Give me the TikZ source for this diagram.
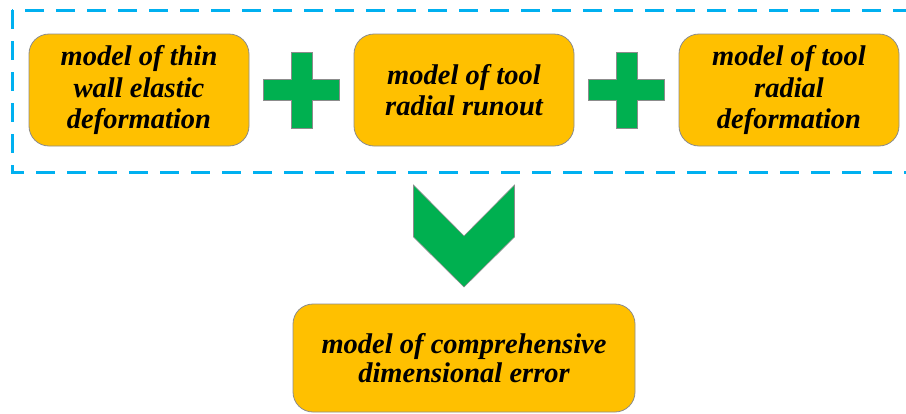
\documentclass[tikz,border=0pt]{standalone}
\usepackage{fontspec}
\setmainfont{Liberation Serif}
\usepackage{tikz}
\usetikzlibrary{calc}
\definecolor{boxfill}{RGB}{255,192,0}
\definecolor{plusgreen}{RGB}{0,176,80}
\definecolor{dashblue}{RGB}{0,176,240}
\definecolor{edgegray}{RGB}{140,140,140}

\begin{document}
\begin{tikzpicture}[
    x=1pt,y=-1pt,
    model/.style={
        draw=edgegray,
        line width=0.8pt,
        fill=boxfill,
        rounded corners=20pt,
        align=center,
        inner sep=0pt,
        minimum width=220pt,
        minimum height=112pt,
        font=\fontsize{28.5}{31.5}\selectfont\bfseries\itshape
      },
    sign/.style={
        draw=edgegray,
        line width=0.6pt,
        fill=plusgreen
      }
  ]
  \useasboundingbox (0,0) rectangle (906,413);

  % 破線の枠
  \draw[dashblue, line width=3pt, dash pattern=on 19pt off 12pt]
    (12,10) rectangle (920,172);

  % 三つのモデル
  \node[model] (wall) at (139,90) {model of thin\\wall elastic\\deformation};
  \node[model] (runout) at (464,90) {model of tool\\radial runout};
  \node[model] (tooldef) at (789,90) {model of tool\\radial\\deformation};

  % 総合モデル
  \node[
    model,
    minimum width=342pt,
    minimum height=108pt,
    font=\fontsize{28.5}{29}\selectfont\bfseries\itshape
  ] (total) at (464,358) {model of comprehensive\\dimensional error};

  % プラス記号
  \foreach \a/\b in {wall/runout,runout/tooldef}{
      \coordinate (plus) at ($(\a.east)!0.5!(\b.west)$);
      \draw[sign] (plus) ++(-10.5,-38) -- ++(21,0) -- ++(0,27.5) -- ++(27.5,0)
        -- ++(0,21) -- ++(-27.5,0) -- ++(0,27.5) -- ++(-21,0) -- ++(0,-27.5)
        -- ++(-27.5,0) -- ++(0,-21) -- ++(27.5,0) -- cycle;
    }

  % 下向きの矢印
  \coordinate (bend) at (464,236);
  \draw[sign] (bend) ++(-50.5,-51) -- (bend) -- ++(50.5,-51) -- ++(0,52)
    -- ++(-50.5,50) -- ++(-50.5,-50) -- cycle;

\end{tikzpicture}
\end{document}
